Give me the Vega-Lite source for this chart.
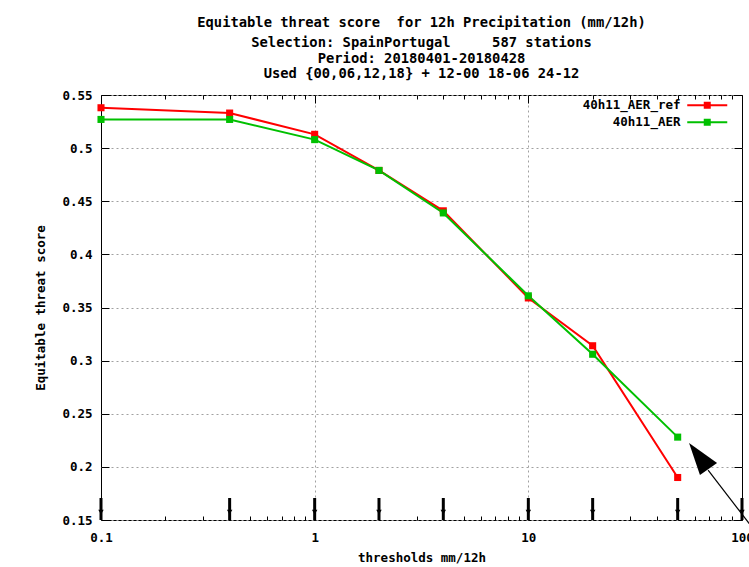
{
  "$schema": "https://vega.github.io/schema/vega-lite/v6.json",
  "width": 641,
  "height": 425,
  "autosize": {"type": "none"},
  "padding": {"left": 101, "top": 95, "right": 7, "bottom": 47},
  "background": "white",
  "config": {
    "view": {"stroke": "#000", "strokeWidth": 1},
    "font": "DejaVu Sans Mono",
    "axis": {
      "labelFont": "DejaVu Sans Mono", "labelFontSize": 12.5, "labelFontWeight": "bold", "labelColor": "#000",
      "titleFont": "DejaVu Sans Mono", "titleFontSize": 12.5, "titleFontWeight": "bold", "titleColor": "#000",
      "domain": false, "tickColor": "#000", "tickWidth": 1,
      "gridColor": "#a0a0a0", "gridDash": [2, 3], "gridWidth": 1
    },
    "legend": {
      "padding": 0, "labelFont": "DejaVu Sans Mono", "labelFontSize": 12.5, "labelFontWeight": "bold", "labelColor": "#000"
    }
  },
  "title": {
    "text": "Equitable threat score\u00a0\u00a0for 12h Precipitation (mm/12h)",
    "subtitle": ["Selection: SpainPortugal\u00a0\u00a0\u00a0\u00a0\u00a0587 stations", "Period: 20180401-20180428", "Used {00,06,12,18} + 12-00 18-06 24-12"],
    "anchor": "middle", "frame": "group",
    "font": "DejaVu Sans Mono", "fontSize": 13.8, "fontWeight": "bold", "color": "#000",
    "subtitleFont": "DejaVu Sans Mono", "subtitleFontSize": 13.8, "subtitleFontWeight": "bold", "subtitleColor": "#000",
    "subtitleLineHeight": 15.5, "subtitlePadding": 6, "offset": 8
  },
  "datasets": {
    "series": [
      {"t": 0.1, "v": 0.538, "s": "40h11_AER_ref"},
      {"t": 0.4, "v": 0.533, "s": "40h11_AER_ref"},
      {"t": 1, "v": 0.513, "s": "40h11_AER_ref"},
      {"t": 2, "v": 0.479, "s": "40h11_AER_ref"},
      {"t": 4, "v": 0.441, "s": "40h11_AER_ref"},
      {"t": 10, "v": 0.359, "s": "40h11_AER_ref"},
      {"t": 20, "v": 0.314, "s": "40h11_AER_ref"},
      {"t": 50, "v": 0.190, "s": "40h11_AER_ref"},
      {"t": 0.1, "v": 0.527, "s": "40h11_AER"},
      {"t": 0.4, "v": 0.527, "s": "40h11_AER"},
      {"t": 1, "v": 0.508, "s": "40h11_AER"},
      {"t": 2, "v": 0.479, "s": "40h11_AER"},
      {"t": 4, "v": 0.439, "s": "40h11_AER"},
      {"t": 10, "v": 0.361, "s": "40h11_AER"},
      {"t": 20, "v": 0.306, "s": "40h11_AER"},
      {"t": 50, "v": 0.228, "s": "40h11_AER"}
    ],
    "arrows": [
      {"t": 0.1, "top": 0.1707, "bot": 0.15, "tip": 0.1575},
      {"t": 0.4, "top": 0.1707, "bot": 0.15, "tip": 0.1575},
      {"t": 1, "top": 0.1707, "bot": 0.15, "tip": 0.1575},
      {"t": 2, "top": 0.1707, "bot": 0.15, "tip": 0.1575},
      {"t": 4, "top": 0.1707, "bot": 0.15, "tip": 0.1575},
      {"t": 10, "top": 0.1707, "bot": 0.15, "tip": 0.1575},
      {"t": 20, "top": 0.1707, "bot": 0.15, "tip": 0.1575},
      {"t": 50, "top": 0.1707, "bot": 0.15, "tip": 0.1575},
      {"t": 100, "top": 0.1707, "bot": 0.15, "tip": 0.1575}
    ],
    "pointer": [{"t": 65.0, "v": 0.2065}],
    "pointerLine": [{"t": 69.4, "v": 0.197, "t2": 110.2, "v2": 0.1444}]
  },
  "layer": [
    {
      "data": {"name": "series"},
      "mark": {"type": "line", "strokeWidth": 2},
      "encoding": {
        "x": {
          "field": "t", "type": "quantitative",
          "scale": {"type": "log", "domain": [0.1, 100], "nice": false},
          "axis": {
            "orient": "bottom",
            "values": [0.1, 0.2, 0.3, 0.4, 0.5, 0.6, 0.7, 0.8, 0.9, 1, 2, 3, 4, 5, 6, 7, 8, 9, 10, 20, 30, 40, 50, 60, 70, 80, 90, 100],
            "labelExpr": "abs(log(datum.value)/LN10 - round(log(datum.value)/LN10)) < 0.001 ? format(datum.value, '~g') : ''",
            "tickSize": {"condition": {"test": "abs(log(datum.value)/LN10 - round(log(datum.value)/LN10)) < 0.001", "value": -8}, "value": -4},
            "grid": true,
            "gridOpacity": {"condition": {"test": "datum.value == 1 || datum.value == 10", "value": 1}, "value": 0},
            "labelPadding": 19, "labelFlush": false,
            "title": "thresholds mm/12h", "titlePadding": 8
          }
        },
        "y": {
          "field": "v", "type": "quantitative",
          "scale": {"domain": [0.15, 0.55], "nice": false, "zero": false},
          "axis": {
            "orient": "left",
            "values": [0.15, 0.2, 0.25, 0.3, 0.35, 0.4, 0.45, 0.5, 0.55],
            "format": "~g", "tickSize": -8, "grid": true, "labelPadding": 17,
            "title": "Equitable threat score", "titlePadding": 14
          }
        },
        "color": {
          "field": "s", "type": "nominal",
          "scale": {"domain": ["40h11_AER_ref", "40h11_AER"], "range": ["#ff0000", "#00c000"]},
          "legend": {
            "orient": "none", "legendX": 600, "legendY": 4, "title": null,
            "symbolType": "M-4,0L4,0M-0.5,-0.5L0.5,-0.5L0.5,0.5L-0.5,0.5Z",
            "symbolSize": 100, "symbolStrokeWidth": 2,
            "labelAlign": "right", "labelOffset": -33, "rowPadding": 3
          }
        }
      }
    },
    {
      "data": {"name": "series"},
      "mark": {"type": "point", "shape": "square", "filled": true, "size": 50, "opacity": 1},
      "encoding": {
        "x": {"field": "t", "type": "quantitative", "scale": {"type": "log", "domain": [0.1, 100], "nice": false}, "axis": null},
        "y": {"field": "v", "type": "quantitative", "scale": {"domain": [0.15, 0.55], "nice": false, "zero": false}, "axis": null},
        "color": {"field": "s", "type": "nominal", "scale": {"domain": ["40h11_AER_ref", "40h11_AER"], "range": ["#ff0000", "#00c000"]}, "legend": null}
      }
    },
    {
      "data": {"name": "arrows"},
      "mark": {"type": "rule", "strokeWidth": 3, "color": "#000"},
      "encoding": {
        "x": {
          "field": "t", "type": "quantitative",
          "scale": {"type": "log", "domain": [0.1, 100], "nice": false},
          "axis": {
            "orient": "top",
            "values": [0.1, 0.2, 0.3, 0.4, 0.5, 0.6, 0.7, 0.8, 0.9, 1, 2, 3, 4, 5, 6, 7, 8, 9, 10, 20, 30, 40, 50, 60, 70, 80, 90, 100],
            "labels": false, "grid": false, "title": null,
            "tickSize": {"condition": {"test": "abs(log(datum.value)/LN10 - round(log(datum.value)/LN10)) < 0.001", "value": -8}, "value": -4}
          }
        },
        "y": {
          "field": "top", "type": "quantitative",
          "scale": {"domain": [0.15, 0.55], "nice": false, "zero": false},
          "axis": {
            "orient": "right",
            "values": [0.15, 0.2, 0.25, 0.3, 0.35, 0.4, 0.45, 0.5, 0.55],
            "labels": false, "grid": false, "title": null, "tickSize": -8
          }
        },
        "y2": {"field": "bot"}
      }
    },
    {
      "data": {"name": "arrows"},
      "mark": {"type": "point", "shape": "triangle-down", "filled": true, "size": 30, "color": "#000", "opacity": 1},
      "encoding": {
        "x": {"field": "t", "type": "quantitative", "scale": {"type": "log", "domain": [0.1, 100], "nice": false}, "axis": null},
        "y": {"field": "tip", "type": "quantitative", "scale": {"domain": [0.15, 0.55], "nice": false, "zero": false}, "axis": null}
      }
    },
    {
      "data": {"name": "pointerLine"},
      "mark": {"type": "rule", "strokeWidth": 1.2, "color": "#000"},
      "encoding": {
        "x": {"field": "t", "type": "quantitative", "scale": {"type": "log", "domain": [0.1, 100], "nice": false}, "axis": null},
        "x2": {"field": "t2"},
        "y": {"field": "v", "type": "quantitative", "scale": {"domain": [0.15, 0.55], "nice": false, "zero": false}, "axis": null},
        "y2": {"field": "v2"}
      }
    },
    {
      "data": {"name": "pointer"},
      "mark": {"type": "point", "shape": "M-0.81,-1.06L0.94,0.19L-0.13,0.94Z", "filled": true, "size": 1024, "color": "#000", "opacity": 1},
      "encoding": {
        "x": {"field": "t", "type": "quantitative", "scale": {"type": "log", "domain": [0.1, 100], "nice": false}, "axis": null},
        "y": {"field": "v", "type": "quantitative", "scale": {"domain": [0.15, 0.55], "nice": false, "zero": false}, "axis": null}
      }
    }
  ],
  "resolve": {"axis": {"x": "independent", "y": "independent"}}
}
